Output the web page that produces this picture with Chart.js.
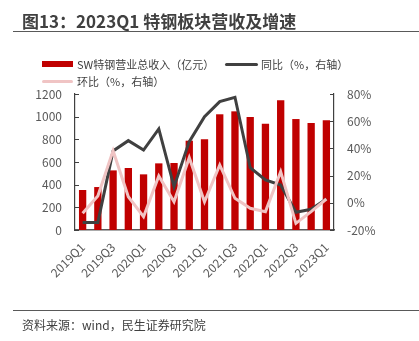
<!DOCTYPE html>
<html>
<head>
<meta charset="utf-8">
<script src="https://cdn.jsdelivr.net/npm/chart.js@4"></script>
<style>
  html, body { margin:0; padding:0; background:#fff; }
  body { width:419px; height:341px; position:relative; overflow:hidden; font-family:"Noto Sans CJK SC","Noto Sans",sans-serif; }
  #c { position:absolute; left:0; top:0; }
  .title { position:absolute; left:22px; top:9px; font-size:17px; font-weight:bold; color:#404040; white-space:nowrap; line-height:24px; }
  .rule { position:absolute; left:13px; right:0; height:0; border-top:1.5px solid #595959; }
  .src { position:absolute; left:22px; top:316px; font-size:12px; color:#404040; line-height:18px; white-space:nowrap; }
  .leg { position:absolute; font-size:11px; color:#404040; line-height:16px; white-space:nowrap; }
  .sw { position:absolute; }
</style>
</head>
<body>
<canvas id="c" width="419" height="341"></canvas>
<div class="title">图13：2023Q1 特钢板块营收及增速</div>
<div class="rule" style="top:31px"></div>
<div class="sw" style="left:42px;top:61px;width:31px;height:6px;background:#c00000"></div>
<div class="leg" style="left:77px;top:56px">SW特钢营业总收入（亿元）</div>
<div class="sw" style="left:225px;top:62.5px;width:33px;height:3px;background:#404040;border-radius:1.5px"></div>
<div class="leg" style="left:261px;top:56px">同比（%，右轴）</div>
<div class="sw" style="left:42px;top:79.5px;width:31px;height:3px;background:#f0c4c4;border-radius:1.5px"></div>
<div class="leg" style="left:77px;top:73px">环比（%，右轴）</div>
<div class="rule" style="top:310px"></div>
<div class="src">资料来源：wind，民生证券研究院</div>
<script>
const quarters = ["2019Q1","2019Q2","2019Q3","2019Q4","2020Q1","2020Q2","2020Q3","2020Q4","2021Q1","2021Q2","2021Q3","2021Q4","2022Q1","2022Q2","2022Q3","2022Q4","2023Q1"];
const revenue = [353, 379, 526, 547, 491, 588, 591, 788, 800, 1021, 1047, 997, 938, 1144, 979, 944, 968];
const yoy = [-14.4, -14.4, 38.1, 45.7, 38.8, 54.3, 11.9, 45.0, 63.3, 74.4, 77.6, 25.8, 16.8, 13.1, -7.0, -4.8, 2.8];
const qoq = [-7.7, 5.0, 38.3, 4.5, -10.2, 19.7, 0.8, 33.2, 0.8, 27.8, 3.3, -4.0, -6.5, 22.9, -15.1, -6.5, 2.8];
const leftTicks = [0, 200, 400, 600, 800, 1000, 1200];
const rightTicks = [-20, 0, 20, 40, 60, 80];

const FONT = '"Noto Sans CJK SC","Noto Sans",sans-serif';
const TICK = '#595959';
const AXIS = '#404040';

const innerTicks = {
  id: 'innerTicks',
  afterDraw(chart) {
    const ctx = chart.ctx;
    const yl = chart.scales.y, yr = chart.scales.y1;
    ctx.save();
    ctx.strokeStyle = AXIS;
    ctx.lineWidth = 1.2;
    ctx.beginPath();
    leftTicks.forEach(v => { const p = Math.round(yl.getPixelForValue(v)) + 0.5; ctx.moveTo(yl.right, p); ctx.lineTo(yl.right + 4, p); });
    rightTicks.forEach(v => { const p = Math.round(yr.getPixelForValue(v)) + 0.5; ctx.moveTo(yr.left, p); ctx.lineTo(yr.left - 4, p); });
    ctx.stroke();
    ctx.restore();
  }
};

new Chart(document.getElementById('c'), {
  data: {
    labels: quarters,
    datasets: [
      { type: 'bar', label: 'SW特钢营业总收入（亿元）', data: revenue, backgroundColor: '#c00000', yAxisID: 'y', order: 3, categoryPercentage: 1, barPercentage: 0.48 },
      { type: 'line', label: '同比（%，右轴）', data: yoy, borderColor: '#404040', borderWidth: 3, pointRadius: 0, tension: 0, yAxisID: 'y1', order: 2 },
      { type: 'line', label: '环比（%，右轴）', data: qoq, borderColor: '#f0c4c4', borderWidth: 3, pointRadius: 0, tension: 0, yAxisID: 'y1', order: 1 }
    ]
  },
  options: {
    responsive: false,
    animation: false,
    layout: { padding: { top: 94, left: 0, right: 0, bottom: 0 } },
    plugins: { legend: { display: false }, title: { display: false }, tooltip: { enabled: false } },
    scales: {
      x: {
        offset: true,
        grid: { display: false, drawTicks: false },
        border: { display: true, color: TICK, width: 1.5 },
        ticks: {
          autoSkip: false, maxRotation: 45, minRotation: 45, padding: 10,
          color: TICK, font: { family: FONT, size: 12 },
          callback: function(v, i) { return i % 2 === 0 ? quarters[i] : ''; }
        },
        afterFit(s) { s.height = 111; }
      },
      y: {
        position: 'left', min: 0, max: 1200,
        grid: { display: false, drawTicks: false },
        border: { display: true, color: AXIS, width: 1.2 },
        ticks: { stepSize: 200, padding: 13, color: TICK, font: { family: FONT, size: 12 }, callback: v => String(v) },
        afterFit(s) { s.width = 75; }
      },
      y1: {
        position: 'right', min: -20, max: 80,
        grid: { display: false, drawTicks: false },
        border: { display: true, color: AXIS, width: 1.2 },
        ticks: { stepSize: 20, padding: 13, color: TICK, font: { family: FONT, size: 12 }, callback: v => v + '%' },
        afterFit(s) { s.width = 85; }
      }
    }
  },
  plugins: [innerTicks]
});
</script>
</body>
</html>
